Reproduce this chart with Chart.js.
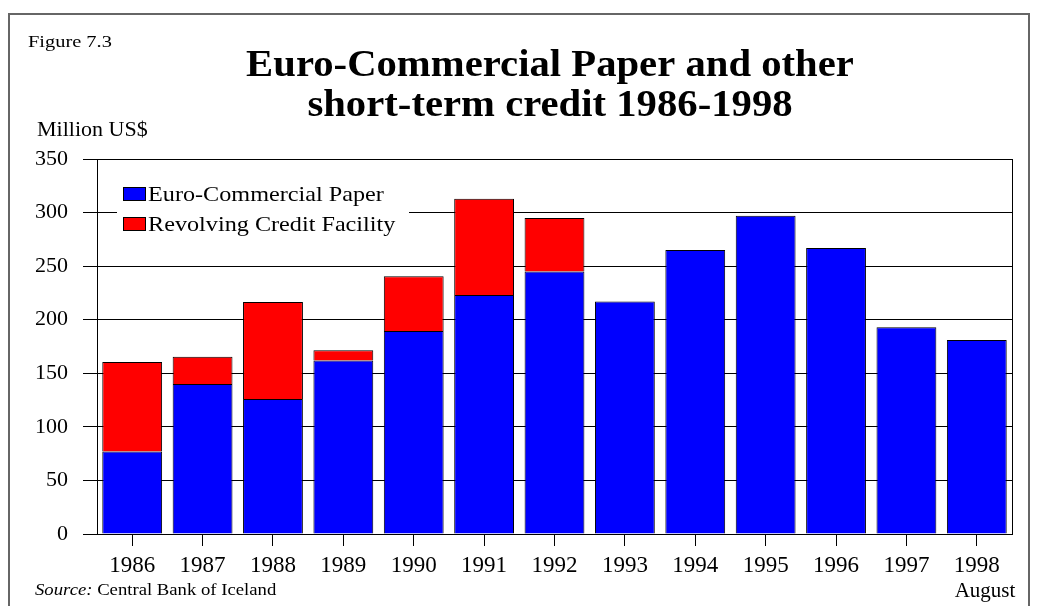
<!DOCTYPE html>
<html>
<head>
<meta charset="utf-8">
<script src="https://cdn.jsdelivr.net/npm/chart.js@4.4.0/dist/chart.umd.min.js"></script>
<style>
    html, body { margin: 0; padding: 0; background: #fff; overflow: hidden; }
    #frame { position: absolute; left: 8px; top: 13px; width: 1022px; height: 640px; border: 2px solid #666; box-sizing: border-box; }
    #chart { position: absolute; left: 0; top: 0; }
</style>
</head>
<body>
<div id="frame"></div>
<canvas id="chart" width="1037" height="606"></canvas>
<script>
// Years on the x axis
const years = ['1986', '1987', '1988', '1989', '1990', '1991', '1992', '1993', '1994', '1995', '1996', '1997', '1998'];

// Million US$
const ecpValues = [77, 140, 126, 162, 189.5, 223, 245, 217, 265, 297, 267, 193, 181];
const rcfValues = [83.5, 25.5, 90.5, 9.5, 51, 90, 50, 0, 0, 0, 0, 0, 0];

const seriesNames = ['Euro-Commercial Paper', 'Revolving Credit Facility'];
const seriesColors = ['#0000FF', '#FF0000'];

// y axis tick labels
const yTicks = [0, 50, 100, 150, 200, 250, 300, 350];

const FONT = "'Liberation Serif', 'Times New Roman', serif";

// text a bit wider than the font, like the scanned original
function wideText(ctx, text, x, y, sx, align) {
    const w = ctx.measureText(text).width * sx;
    let left = x;
    if (align === 'center') left = x - w / 2;
    if (align === 'right') left = x - w;
    ctx.save();
    ctx.textAlign = 'left';
    ctx.translate(left, y);
    ctx.scale(sx, 1);
    ctx.fillText(text, 0, 0);
    ctx.restore();
    return w;
}

// Legend box, texts and plot border drawn on the canvas
const extrasPlugin = {
    id: 'extras',
    afterDraw(chart) {
        const ctx = chart.ctx;
        const area = chart.chartArea;
        ctx.save();

        // right border of plot area
        ctx.strokeStyle = '#000';
        ctx.lineWidth = 1;
        ctx.beginPath();
        ctx.moveTo(Math.round(area.right) + 0.5, area.top);
        ctx.lineTo(Math.round(area.right) + 0.5, area.bottom);
        ctx.stroke();

        // legend inside plot
        ctx.fillStyle = '#fff';
        ctx.fillRect(117, 178, 292, 62);
        ctx.font = '22px ' + FONT;
        ctx.textBaseline = 'alphabetic';
        seriesNames.forEach((name, i) => {
            const base = 201 + i * 30;
            ctx.fillStyle = seriesColors[i];
            ctx.fillRect(123, base - 13, 23, 13);
            ctx.strokeStyle = '#000';
            ctx.strokeRect(123.5, base - 13.5, 22, 13);
            ctx.fillStyle = '#000';
            wideText(ctx, name, 148, base, 1.1, 'left');
        });

        // figure texts
        ctx.fillStyle = '#000';
        ctx.font = '17px ' + FONT;
        wideText(ctx, 'Figure 7.3', 28, 47, 1.2, 'left');
        ctx.font = '20px ' + FONT;
        wideText(ctx, 'Million US$', 37, 136, 1.1, 'left');

        ctx.font = 'bold 37px ' + FONT;
        wideText(ctx, 'Euro-Commercial Paper and other', 550, 76, 1.1, 'center');
        wideText(ctx, 'short-term credit 1986-1998', 550, 116, 1.1, 'center');

        ctx.font = '21px ' + FONT;
        wideText(ctx, 'August', 985, 597, 1.0, 'center');

        ctx.font = 'italic 17px ' + FONT;
        const w = wideText(ctx, 'Source: ', 35, 595, 1.1, 'left');
        ctx.font = '17px ' + FONT;
        wideText(ctx, 'Central Bank of Iceland', 35 + w, 595, 1.1, 'left');

        ctx.restore();
    }
};

new Chart(document.getElementById('chart'), {
    type: 'bar',
    data: {
        labels: years,
        datasets: [
            {
                label: seriesNames[0],
                data: ecpValues,
                backgroundColor: seriesColors[0],
                borderColor: '#000',
                borderWidth: 1
            },
            {
                label: seriesNames[1],
                data: rcfValues,
                backgroundColor: seriesColors[1],
                borderColor: '#000',
                borderWidth: 1
            }
        ]
    },
    options: {
        responsive: false,
        animation: false,
        layout: { padding: { top: 159, right: 25, left: 0, bottom: 0 } },
        datasets: { bar: { categoryPercentage: 1, barPercentage: 0.85 } },
        plugins: {
            legend: { display: false },
            tooltip: { enabled: false }
        },
        scales: {
            x: {
                stacked: true,
                grid: { drawOnChartArea: false, drawTicks: true, tickLength: 12, offset: false, color: '#000' },
                border: { color: '#000' },
                ticks: { color: '#000', font: { family: FONT, size: 23 }, padding: 6, maxRotation: 0, autoSkip: false },
                afterFit: s => { s.height = 72; }
            },
            y: {
                stacked: true,
                min: 0,
                max: 350,
                afterBuildTicks: s => { s.ticks = yTicks.map(v => ({ value: v })); },
                grid: { color: '#000', tickLength: 14 },
                border: { color: '#000' },
                ticks: { color: '#000', font: { family: FONT, size: 22 }, padding: 15 },
                afterFit: s => { s.width = 97; }
            }
        }
    },
    plugins: [extrasPlugin]
});
</script>
</body>
</html>
